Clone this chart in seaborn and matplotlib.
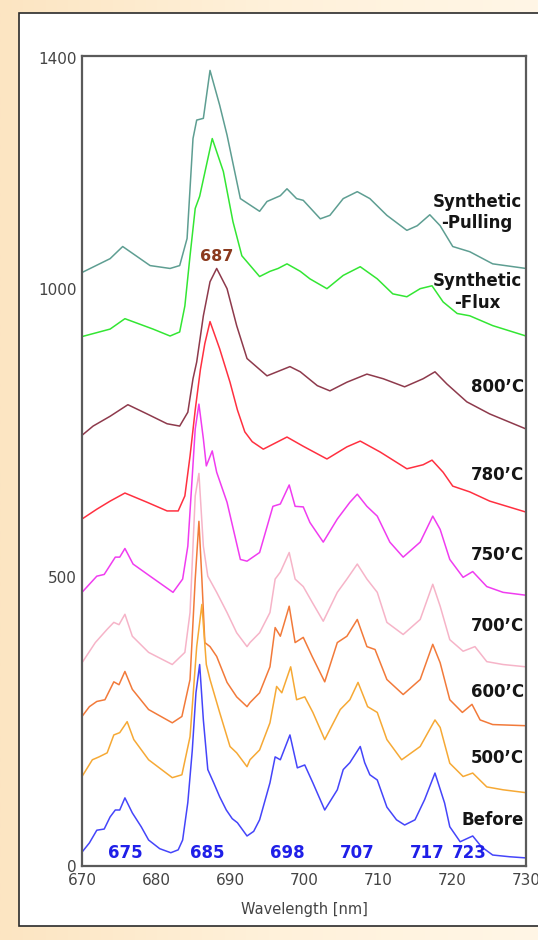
import numpy as np
import pandas as pd
import matplotlib
matplotlib.use("Agg")
import matplotlib.pyplot as plt
from matplotlib.patches import Rectangle
from matplotlib.colors import LinearSegmentedColormap
import seaborn as sns

sns.set_style("white")
plt.rcParams['font.family'] = ['DejaVu Sans']

# ---------------- data (wavelength nm, intensity) ----------------
wl_before = [670, 671, 672, 673, 673.8, 674.5, 675.1, 675.8, 676.8, 678, 679, 680.5, 682, 683, 683.6,
             684.3, 684.9, 685.4, 685.9, 686.4, 687, 687.8, 688.6, 689.5, 690.3, 691, 692.3, 693.2, 694,
             695.4, 696.1, 696.8, 698.1, 699.1, 700.1, 701.2, 702.8, 704.5, 705.3, 706.2, 707.6, 708.2,
             708.9, 709.9, 711.2, 712.5, 713.6, 715, 716.3, 717.7, 719, 719.7, 721.1, 722.8, 724, 725.5,
             727.8, 730]
i_before = [24, 40, 62, 64, 85, 97, 97, 118, 92, 68, 45, 30, 23, 28, 45,
            110, 200, 300, 349, 253, 167, 144, 120, 97, 82, 75, 52, 60, 80,
            144, 189, 184, 227, 170, 175, 144, 97, 132, 167, 179, 207, 179,
            158, 149, 102, 80, 71, 80, 115, 161, 109, 68, 42, 52, 33, 19,
            16, 14]

wl_500 = [670, 671.4, 672.3, 673.4, 674.3, 675.1, 676.1, 677, 679, 682.2, 683.5, 684.6, 685.5, 686.2,
          686.8, 687.3, 688.6, 690, 690.9, 692.3, 692.7, 694, 695.4, 696.3, 697, 698.2, 699, 700.1,
          701.2, 702.8, 704.9, 706.2, 707.3, 708.6, 709.9, 711.2, 713.2, 715.7, 717.7, 718.4, 719.7,
          721.5, 722.8, 724.7, 726.9, 730]
i_500 = [155, 184, 189, 196, 227, 231, 250, 219, 184, 153, 158, 224, 380, 453,
         349, 323, 266, 207, 196, 172, 184, 201, 248, 311, 300, 345, 288, 293,
         266, 219, 271, 288, 318, 276, 266, 219, 184, 207, 253, 240, 178,
         155, 161, 137, 132, 127]

wl_600 = [670, 671, 672, 673.1, 674.3, 675, 675.8, 676.8, 679, 682.2, 683.5, 684.6, 685.3, 685.8,
          686.2, 686.6, 687.3, 688.2, 689.6, 690.9, 692.3, 692.7, 694, 695.4, 696.1, 696.8, 697.2,
          698, 698.8, 699.9, 701.1, 702.8, 704.5, 705.8, 707.2, 708.5, 709.6, 711.2, 713.4, 715.7,
          717.4, 718.4, 719.7, 721.4, 722.7, 723.8, 725.5, 730]
i_600 = [259, 276, 285, 288, 319, 314, 337, 306, 271, 248, 259, 323, 497, 597,
         497, 387, 380, 363, 318, 293, 276, 283, 300, 345, 413, 398, 415,
         450, 387, 396, 363, 319, 387, 398, 427, 380, 375, 323, 297, 323,
         384, 352, 288, 266, 280, 253, 245, 243]

wl_700 = [670, 671.8, 673.4, 674.3, 675, 675.8, 676.8, 679, 682.2, 683.9, 684.6, 685.3, 685.8, 686.4,
          687, 688.2, 689.6, 690.9, 692.3, 692.7, 694, 695.4, 696.1, 696.8, 698, 698.8, 699.9, 701.1,
          702.6, 704.5, 705.8, 707.2, 708.5, 709.9, 711.2, 713.4, 715.7, 717.4, 718.4, 719.7, 721.5,
          723.1, 724.7, 726.9, 730]
i_700 = [352, 387, 410, 422, 418, 436, 398, 370, 349, 370, 439, 641, 680, 554,
         502, 474, 439, 404, 380, 387, 404, 439, 497, 509, 543, 497, 484, 457,
         424, 474, 497, 523, 497, 474, 422, 401, 427, 488, 450, 392, 372,
         380, 354, 349, 345]

wl_750 = [670, 672, 673, 674.5, 675.1, 675.8, 676.9, 679.2, 682.3, 683.6, 684.3, 684.9, 685.3, 685.8,
          686.4, 686.8, 687.6, 688.2, 689.6, 691.4, 692.3, 694, 695.8, 696.8, 698, 698.8, 699.9,
          700.8, 702.6, 704.5, 706.2, 707.2, 708.5, 709.9, 711.6, 713.4, 715.7, 717.4, 718.4, 719.7,
          721.5, 722.8, 724.7, 726.9, 730]
i_750 = [474, 502, 505, 535, 535, 550, 523, 502, 474, 497, 554, 675, 757, 800,
         740, 693, 719, 682, 630, 531, 528, 543, 623, 627, 660, 623, 622,
         595, 561, 601, 630, 644, 623, 606, 561, 535, 561, 606, 583, 531,
         500, 510, 484, 474, 469]

wl_780 = [670, 672, 673.8, 675.8, 678.8, 681.5, 683, 683.9, 684.6, 685.3, 686, 686.6, 687.3, 688.6,
          690, 691, 692, 693, 694.5, 697.7, 699.9, 703.1, 705.8, 707.6, 710.3, 713.9, 716.1, 717.3,
          718.8, 720.1, 722.4, 725.1, 730]
i_780 = [601, 618, 632, 646, 630, 615, 615, 641, 710, 790, 860, 905, 943, 896,
         838, 790, 752, 735, 722, 743, 727, 705, 726, 736, 717, 688, 695, 703,
         682, 658, 648, 632, 613]

wl_800 = [670, 671.5, 673.8, 676.2, 678.8, 681.5, 683.2, 684.3, 685, 685.5, 686.4, 687.3, 688.2, 689.6,
          690.9, 692.3, 695, 698.1, 699.5, 701.8, 703.5, 705.8, 708.5, 710.7, 713.6, 716.1, 717.7,
          719.3, 722, 725.1, 730]
i_800 = [746, 762, 779, 799, 783, 766, 762, 786, 844, 873, 953, 1012, 1035, 1000,
         936, 879, 849, 865, 856, 832, 823, 838, 852, 844, 830, 844, 856,
         835, 804, 783, 757]

wl_flux = [670, 673.8, 675.8, 679.6, 681.9, 683.2, 683.9, 684.6, 685.3, 685.9, 687.6, 689.1, 690.4, 691.6,
           694, 695.4, 696.5, 697.7, 699.5, 700.8, 703.1, 705.3, 707.6, 709.9, 712, 713.9, 715.7, 717.3,
           718.8, 720.7, 722.4, 725.5, 730]
i_flux = [917, 930, 948, 930, 918, 925, 970, 1057, 1139, 1160, 1260, 1203, 1116, 1057,
          1021, 1030, 1035, 1043, 1030, 1017, 1000, 1023, 1038, 1017, 991, 986, 1000, 1005,
          977, 957, 953, 936, 918]

wl_pull = [670, 673.8, 675.5, 679.2, 681.9, 683.2, 684.2, 685, 685.5, 686.4, 687.3, 688.6, 689.6, 691.4,
           694, 695, 696.8, 697.7, 699, 699.9, 702.2, 703.5, 705.3, 707.2, 708.9, 711.2, 713.9, 715.3,
           717, 718.4, 720.1, 722.4, 725.5, 730]
i_pull = [1028, 1052, 1073, 1040, 1035, 1040, 1087, 1260, 1292, 1295, 1378, 1318, 1266, 1156,
          1134, 1151, 1161, 1173, 1156, 1153, 1121, 1127, 1156, 1168, 1156, 1127, 1101, 1109,
          1128, 1109, 1073, 1064, 1043, 1035]

series_names = ["Synthetic-Pulling", "Synthetic-Flux", "800", "780", "750", "700", "600", "500", "Before"]
series_wl = [wl_pull, wl_flux, wl_800, wl_780, wl_750, wl_700, wl_600, wl_500, wl_before]
series_i = [i_pull, i_flux, i_800, i_780, i_750, i_700, i_600, i_500, i_before]
series_colors = ["#5E9E92", "#33E633", "#8E3A4C", "#FF3040", "#F03CF0", "#F6B4C8",
                 "#F27A3A", "#F6A935", "#4545FA"]

right_labels = ["Synthetic\n-Pulling", "Synthetic\n-Flux", "800’C", "780’C", "750’C",
                "700’C", "600’C", "500’C", "Before"]
right_label_y = [1132, 994, 830, 678, 539, 416, 302, 187, 80]

peak_labels = ["675", "685", "698", "707", "717", "723"]
peak_label_x = [675.9, 686.9, 697.7, 707.2, 716.6, 722.4]

x_ticks = [670, 680, 690, 700, 710, 720, 730]
y_ticks = [0, 250, 500, 750, 1000, 1250, 1400]
y_ticklabels = ["0", "", "500", "", "1000", "", "1400"]

# ---------------- build long table ----------------
frames = []
for name, w, v in zip(series_names, series_wl, series_i):
    frames.append(pd.DataFrame({"wl": w, "I": v, "series": name}))
df = pd.concat(frames, ignore_index=True)
palette = dict(zip(series_names, series_colors))

# ---------------- figure ----------------
W, H = 538, 940
fig = plt.figure(figsize=(W / 100, H / 100), dpi=100)

# background gradient
bg = fig.add_axes([0, 0, 1, 1], zorder=-10)
grad = np.linspace(0, 1, 256)[None, :]
cm = LinearSegmentedColormap.from_list("bg", ["#FCE5C2", "#FFF1DA", "#FFF6E6"])
bg.imshow(grad, aspect="auto", cmap=cm, extent=[0, 1, 0, 1])
bg.set_axis_off()
# white panel
bg.add_patch(Rectangle((19 / W, 1 - 926 / H), (540 - 19) / W, (926 - 13) / H,
                       facecolor="white", edgecolor="#2a2a2a", lw=1.2,
                       transform=bg.transAxes))
bg.set_xlim(0, 1)
bg.set_ylim(0, 1)

ax = fig.add_axes([82 / W, 1 - 866 / H, (526 - 82) / W, (866 - 56) / H])
ax.set_facecolor("white")
sns.lineplot(data=df, x="wl", y="I", hue="series", palette=palette, estimator=None,
             sort=False, legend=False, lw=1.1, ax=ax, hue_order=series_names)

ax.set_xlim(670, 730)
ax.set_ylim(0, 1403)
ax.set_xticks(x_ticks)
ax.set_yticks(y_ticks)
ax.set_yticklabels(y_ticklabels)
ax.tick_params(direction="in", length=6, width=1.2, color="#555555",
               labelsize=11, labelcolor="#444444")
ax.tick_params(axis="x", pad=5)
ax.tick_params(axis="y", pad=4)
for s in ax.spines.values():
    s.set_color("#5a5a5a")
    s.set_linewidth(1.6)
ax.set_xlabel("Wavelength [nm]", fontsize=10.5, color="#444444", labelpad=10)
ax.set_ylabel("")

for lab, y in zip(right_labels, right_label_y):
    if "\n" in lab:
        ax.text(723.4, y, lab, ha="center", va="center", fontsize=12, fontweight="bold",
                color="#151515", linespacing=1.25, multialignment="center")
    else:
        ax.text(729.7, y, lab, ha="right", va="center", fontsize=12, fontweight="bold",
                color="#151515")

for lab, x in zip(peak_labels, peak_label_x):
    ax.text(x, 22, lab, ha="center", va="center", fontsize=12, fontweight="bold", color="#1F1FE8")

ax.text(688.2, 1055, "687", ha="center", va="center", fontsize=11.5, fontweight="bold", color="#8B3A1E")

fig.savefig("out.png", dpi=100, facecolor=fig.get_facecolor())
